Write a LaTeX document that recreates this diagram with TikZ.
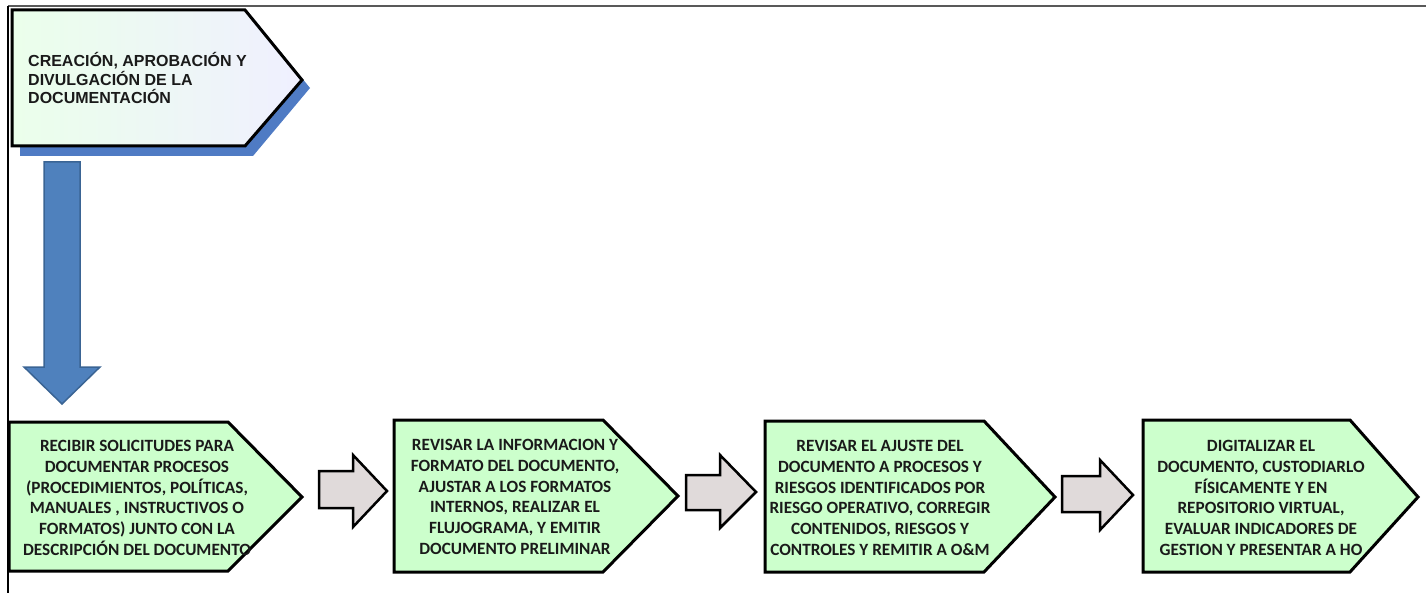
\documentclass[tikz,border=0pt]{standalone}
\usepackage{fontspec}
\setmainfont{Carlito}
\newfontfamily\arialf{Liberation Sans}
\usetikzlibrary{calc}
\definecolor{boxgreen}{HTML}{CCFFCC}
\definecolor{arrgray}{HTML}{E0DADA}
\definecolor{blueA}{HTML}{4F81BD}
\definecolor{blueB}{HTML}{3A6494}
\definecolor{shadowblue}{HTML}{4F7BC4}
\definecolor{txt}{HTML}{1A1A1A}
\tikzset{
  stepbox/.style={draw=black, line width=3pt, fill=boxgreen, line join=miter},
  grayarrow/.style={draw=black, line width=2.5pt, fill=arrgray, line join=miter},
  steptext/.style={font=\bfseries\fontsize{17.2}{20.7}\selectfont, text=txt, align=center, inner sep=0pt},
}
\begin{document}
\begin{tikzpicture}[x=1pt,y=-1pt]
\useasboundingbox (0,0) rectangle (1426,593);
% frame lines
\draw[gray!70!black, line width=1.5pt] (8,6) -- (1426,6);
\draw[black, line width=1.2pt] (8,6) -- (8,593);
% top pentagon with shadow
\fill[shadowblue] (20,18) -- (253,18) -- (310,88) -- (253,156) -- (20,156) -- cycle;
\shade[left color=green!8!white, right color=blue!6!white]
  (12,10) -- (245,10) -- (302,80) -- (245,146) -- (12,146) -- cycle;
\draw[black, line width=3pt, line join=miter] (12,10) -- (245,10) -- (302,80) -- (245,146) -- (12,146) -- cycle;
\node[anchor=west, inner sep=0pt, align=left, text=txt,
  font=\arialf\bfseries\fontsize{16}{18.2}\selectfont] (title) at (28,78)
  {CREACIÓN, APROBACIÓN Y\\DIVULGACIÓN DE LA\\DOCUMENTACIÓN};
% blue down arrow
\draw[blueB, fill=blueA, line width=1.5pt, line join=miter]
  (44,162) -- (80,162) -- (80,367) -- (100,367) -- (62,404) -- (24,367) -- (44,367) -- cycle;
% step boxes
\draw[stepbox] (9,422) -- (228,422) -- (302,497) -- (228,571) -- (9,571) -- cycle;
\draw[stepbox] (394,420) -- (603,420) -- (678,496) -- (603,572) -- (394,572) -- cycle;
\draw[stepbox] (765,421) -- (984,421) -- (1055,497) -- (984,572) -- (765,572) -- cycle;
\draw[stepbox] (1143,420) -- (1350,420) -- (1418,497) -- (1350,572) -- (1143,572) -- cycle;
% gray arrows
\draw[grayarrow] (319,471) -- (353,471) -- (353,455) -- (387,491) -- (353,527) -- (353,508) -- (319,508) -- cycle;
\draw[grayarrow] (686,475) -- (720,475) -- (720,455) -- (756,492) -- (720,528) -- (720,510) -- (686,510) -- cycle;
\draw[grayarrow] (1062,476) -- (1100,476) -- (1100,460) -- (1133,495) -- (1100,530) -- (1100,512) -- (1062,512) -- cycle;
% texts
\node[steptext] (t1) at (137,498) {RECIBIR SOLICITUDES PARA\\DOCUMENTAR PROCESOS\\(PROCEDIMIENTOS, POLÍTICAS,\\MANUALES , INSTRUCTIVOS O\\FORMATOS) JUNTO CON LA\\DESCRIPCIÓN DEL DOCUMENTO};
\node[steptext] (t2) at (515,497) {REVISAR LA INFORMACION Y\\FORMATO DEL DOCUMENTO,\\AJUSTAR A LOS FORMATOS\\INTERNOS, REALIZAR EL\\FLUJOGRAMA, Y EMITIR\\DOCUMENTO PRELIMINAR};
\node[steptext] (t3) at (880,498) {REVISAR EL AJUSTE DEL\\DOCUMENTO A PROCESOS Y\\RIESGOS IDENTIFICADOS POR\\RIESGO OPERATIVO, CORREGIR\\CONTENIDOS, RIESGOS Y\\CONTROLES Y REMITIR A O\&M};
\node[steptext] (t4) at (1261,498) {DIGITALIZAR EL\\DOCUMENTO, CUSTODIARLO\\FÍSICAMENTE Y EN\\REPOSITORIO VIRTUAL,\\EVALUAR INDICADORES DE\\GESTION Y PRESENTAR A HO};
\end{tikzpicture}
\end{document}
